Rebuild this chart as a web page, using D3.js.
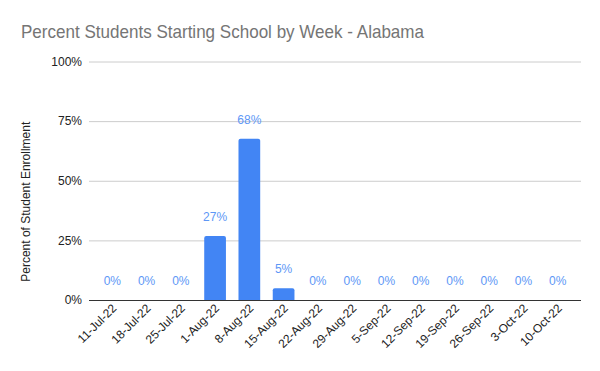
<!DOCTYPE html>
<html>
<head>
<meta charset="utf-8">
<script src="https://cdn.jsdelivr.net/npm/d3@7"></script>
<style>
	body { margin: 0; background: #fff; }
	svg { display: block; font-family: "Liberation Sans", Arial, sans-serif; }
</style>
</head>
<body>
<div id="chart"></div>
<script>
var weeks = ['11-Jul-22', '18-Jul-22', '25-Jul-22', '1-Aug-22', '8-Aug-22', '15-Aug-22', '22-Aug-22',
	'29-Aug-22', '5-Sep-22', '12-Sep-22', '19-Sep-22', '26-Sep-22', '3-Oct-22', '10-Oct-22']
var share = [0, 0, 0, 0.268, 0.676, 0.049, 0, 0, 0, 0, 0, 0, 0, 0]
var yTicks = [0, 0.25, 0.5, 0.75, 1]

var width = 600
var height = 371
var plotLeft = 89, plotRight = 581, plotTop = 61.5, plotBottom = 300

var svg = d3.select('#chart').append('svg')
	.attr('width', width)
	.attr('height', height)

// title is rendered a bit narrow in the original, squeeze it to fit
svg.append('text')
	.attr('x', 21)
	.attr('y', 38)
	.attr('fill', '#757575')
	.attr('textLength', 403)
	.attr('lengthAdjust', 'spacingAndGlyphs')
	.style('font-size', '19px')
	.text('Percent Students Starting School by Week - Alabama')

var x = d3.scaleBand()
	.domain(weeks)
	.range([plotLeft, plotRight])
	.paddingInner(0.366)
	.paddingOuter(0.363)

var y = d3.scaleLinear()
	.domain([0, 1])
	.range([plotBottom, plotTop])

// gridlines + y labels
var yAxis = svg.append('g')
	.attr('transform', 'translate(' + plotLeft + ',0)')
	.call(d3.axisLeft(y).tickValues(yTicks).tickFormat(d3.format('.0%')).tickSize(-(plotRight - plotLeft)).tickPadding(7))
yAxis.select('.domain').remove()
yAxis.selectAll('.tick line').attr('stroke', '#cccccc')
yAxis.selectAll('.tick text')
	.attr('fill', '#222')
	.style('font-size', '12px')
	.style('font-family', '"Liberation Sans", Arial, sans-serif')

svg.append('text')
	.attr('transform', 'translate(30,' + ((plotTop + plotBottom) / 2 + 21) + ') rotate(-90)')
	.attr('text-anchor', 'middle')
	.attr('fill', '#222')
	.style('font-size', '12px')
	.text('Percent of Student Enrollment')

var rows = weeks.map(function (w, i) { return { week: w, value: share[i] } })

// bars, slightly rounded on top
svg.selectAll('path.bar')
	.data(rows.filter(function (d) { return d.value > 0 }))
	.enter()
	.append('path')
	.attr('class', 'bar')
	.attr('fill', '#4285f4')
	.attr('d', function (d) {
		var x0 = x(d.week), w = x.bandwidth(), y0 = y(d.value), r = 2
		return 'M' + x0 + ',' + plotBottom + 'V' + (y0 + r) + 'Q' + x0 + ',' + y0 + ' ' + (x0 + r) + ',' + y0 +
			'H' + (x0 + w - r) + 'Q' + (x0 + w) + ',' + y0 + ' ' + (x0 + w) + ',' + (y0 + r) + 'V' + plotBottom + 'Z'
	})

svg.selectAll('text.val')
	.data(rows)
	.enter()
	.append('text')
	.attr('class', 'val')
	.attr('x', function (d) { return x(d.week) + x.bandwidth() / 2 })
	.attr('y', function (d) { return y(d.value) - 15 })
	.attr('text-anchor', 'middle')
	.attr('fill', '#5e97f6')
	.style('font-size', '12px')
	.text(function (d) { return Math.round(d.value * 100) + '%' })

// x axis
var xAxis = svg.append('g')
	.attr('transform', 'translate(0,' + plotBottom + ')')
	.call(d3.axisBottom(x).tickSize(0).tickPadding(0))
xAxis.select('.domain').attr('stroke', '#333').attr('d', 'M' + plotLeft + ',0.5H' + plotRight)
xAxis.selectAll('.tick text')
	.attr('fill', '#222')
	.attr('text-anchor', 'end')
	.attr('dy', 0)
	.attr('transform', 'translate(5,9) rotate(-45)')
	.style('font-size', '12px')
	.style('font-family', '"Liberation Sans", Arial, sans-serif')
</script>
</body>
</html>
